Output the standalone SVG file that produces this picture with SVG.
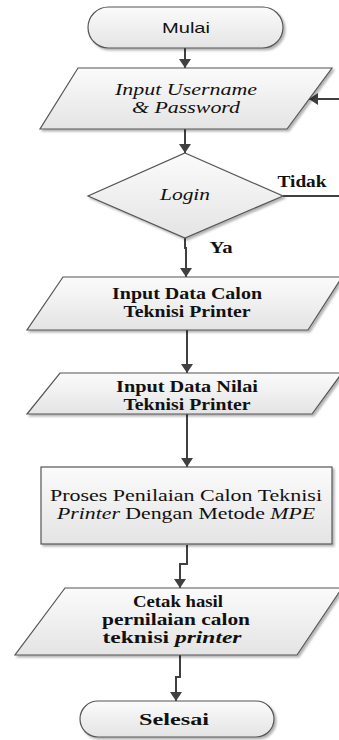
<svg xmlns="http://www.w3.org/2000/svg" width="339" height="740" viewBox="0 0 339 740">
<style>
.shape{fill:url(#g);stroke:#555;stroke-width:1.2;filter:url(#sh)}
.conn{fill:none;stroke:#404040;stroke-width:2;marker-end:url(#arr)}
.t{font-family:'Liberation Serif','DejaVu Serif',serif;font-size:16px;fill:#111;text-anchor:middle}
.l{font-size:17px}
.b{font-weight:bold}
.i{font-style:italic}
.sans{font-family:'Liberation Sans','DejaVu Sans',sans-serif;font-size:15px;fill:#111;text-anchor:middle}
</style>
<defs>
<linearGradient id="g" x1="0" y1="0" x2="0" y2="1">
<stop offset="0" stop-color="#fbfbfb"/>
<stop offset="1" stop-color="#e4e4e4"/>
</linearGradient>
<filter id="sh" x="-10%" y="-10%" width="130%" height="130%">
<feDropShadow dx="2" dy="2" stdDeviation="1" flood-color="#000" flood-opacity="0.3"/>
</filter>
<marker id="arr" viewBox="0 0 10 10" refX="10" refY="5" markerWidth="9" markerHeight="12" markerUnits="userSpaceOnUse" orient="auto" preserveAspectRatio="none">
<path d="M0,0 L10,5 L0,10 z" fill="#404040"/>
</marker>
</defs>

<g id="connectors">
<path class="conn" d="M185,48 V68"/>
<path class="conn" d="M185,129 V153"/>
<path class="conn" d="M185,238 V248 H186 V277"/>
<path class="conn" d="M283,196 H345 V99 H309"/>
<path class="conn" d="M187,330 V373"/>
<path class="conn" d="M187,414 V467"/>
<path class="conn" d="M187,545 V564 H180 V588"/>
<path class="conn" d="M180,655 V677 H176 V701"/>
<text class="t b" x="302" y="187" textLength="49" lengthAdjust="spacingAndGlyphs">Tidak</text>
<text class="t b" x="221" y="253" textLength="23" lengthAdjust="spacingAndGlyphs">Ya</text>
</g>

<g id="mulai">
<rect class="shape" x="88" y="7" width="195" height="41" rx="20.5" ry="20.5"/>
<text class="sans" x="186" y="33" textLength="48" lengthAdjust="spacingAndGlyphs">Mulai</text>
</g>

<g id="input-login">
<polygon class="shape" points="78,68 332,68 287,129 40,129"/>
<text class="t i" x="186" y="95" textLength="142" lengthAdjust="spacingAndGlyphs">Input Username</text>
<text class="t i" x="186" y="113" textLength="108" lengthAdjust="spacingAndGlyphs">&amp; Password</text>
</g>

<g id="login">
<polygon class="shape" points="185,153 283,196 185,238 88,196"/>
<text class="t i" x="185" y="200" textLength="50" lengthAdjust="spacingAndGlyphs">Login</text>
</g>

<g id="input-calon">
<polygon class="shape" points="63,277 342,277 308,330 27,330"/>
<text class="t b" x="187" y="299" textLength="150" lengthAdjust="spacingAndGlyphs">Input Data Calon</text>
<text class="t b" x="187" y="317" textLength="127" lengthAdjust="spacingAndGlyphs">Teknisi Printer</text>
</g>

<g id="input-nilai">
<polygon class="shape" points="60,373 342,373 312,414 27,414"/>
<text class="t b" x="187" y="392" textLength="142" lengthAdjust="spacingAndGlyphs">Input Data Nilai</text>
<text class="t b" x="187" y="410" textLength="127" lengthAdjust="spacingAndGlyphs">Teknisi Printer</text>
</g>

<g id="proses">
<rect class="shape" x="41" y="467" width="291" height="77"/>
<text class="t" x="186" y="501" textLength="272" lengthAdjust="spacingAndGlyphs">Proses Penilaian Calon Teknisi</text>
<text class="t" x="186" y="519" textLength="258" lengthAdjust="spacingAndGlyphs"><tspan class="i">Printer</tspan> Dengan Metode <tspan class="i">MPE</tspan></text>
</g>

<g id="cetak">
<polygon class="shape" points="65,588 342,588 297,655 15,655"/>
<text class="t b" x="178" y="607" textLength="90" lengthAdjust="spacingAndGlyphs">Cetak hasil</text>
<text class="t b" x="176" y="625" textLength="148" lengthAdjust="spacingAndGlyphs">pernilaian calon</text>
<text class="t b" x="172" y="643" textLength="139" lengthAdjust="spacingAndGlyphs">teknisi <tspan class="i">printer</tspan></text>
</g>

<g id="selesai">
<rect class="shape" x="80" y="701" width="194" height="36" rx="18" ry="18"/>
<text class="t b l" x="174" y="725" textLength="70" lengthAdjust="spacingAndGlyphs">Selesai</text>
</g>
</svg>
